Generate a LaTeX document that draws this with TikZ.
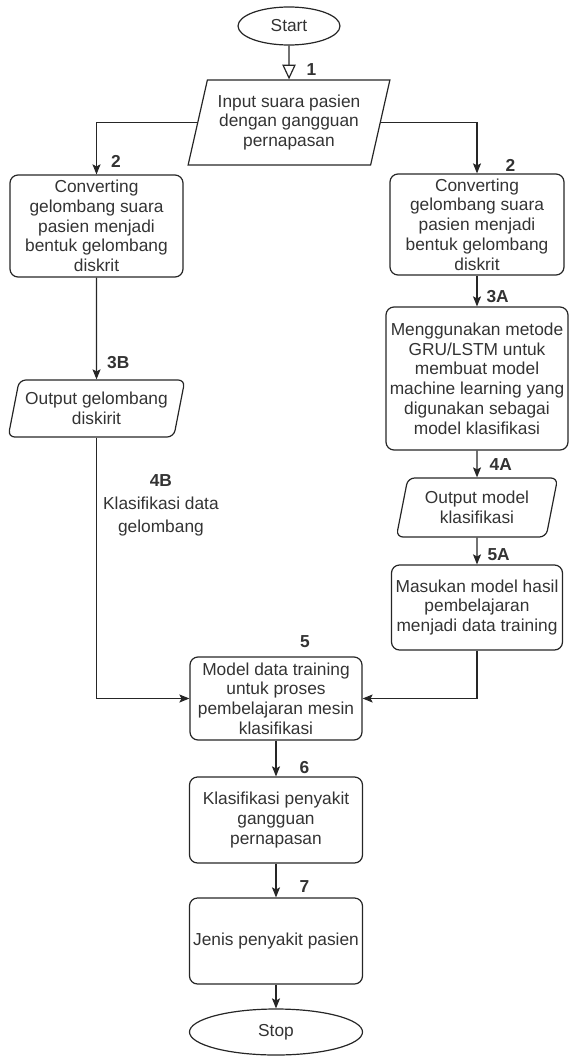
\documentclass[tikz,border=0pt]{standalone}
\usepackage{fontspec}
\setmainfont{Liberation Sans}
\usetikzlibrary{shapes.geometric,arrows.meta,positioning}

\begin{document}
\begin{tikzpicture}[x=0.75pt, y=-0.75pt, line width=0.9pt]
% flowchart of the respiratory sound classification, units in px
\providecommand{\flowLineColor}{black!85}
\providecommand{\flowTextColor}{black!80}
\providecommand{\flowFont}{\fontsize{13pt}{14.8pt}\selectfont}
\tikzset{
  terminal/.style={ellipse, draw=\flowLineColor, text=\flowTextColor, font=\flowFont, inner sep=0pt},
  process/.style={rectangle, rounded corners=6pt, draw=\flowLineColor, text=\flowTextColor,
    font=\flowFont, align=center, inner sep=1pt},
  io/.style={trapezium, trapezium stretches=true, draw=\flowLineColor, text=\flowTextColor,
    font=\flowFont, align=center, inner sep=1pt},
  flow/.style={draw=\flowLineColor, -{Stealth[length=7.5pt, width=6pt, inset=1.5pt]}},
  num/.style={font=\flowFont\bfseries, text=\flowTextColor, inner sep=0pt, anchor=west},
  edgetext/.style={font=\fontsize{13pt}{17pt}\selectfont, text=\flowTextColor, inner sep=0pt, align=center}
}
\useasboundingbox (0,0) rectangle (568,1056);

% Terminals
\node[terminal, minimum width=76.5pt, minimum height=28.5pt] (start) at (289,26) {Start};
\node[terminal, minimum width=129.75pt, minimum height=34.5pt] (stop) at (276,1032) {Stop};

% Input
\node[io, trapezium left angle=73.6, trapezium right angle=106.4,
  minimum width=151.5pt, minimum height=63.75pt] (input) at (289,122.5)
  {Input suara pasien\\dengan gangguan\\pernapasan};

% Left branch
\node[process, minimum width=129.75pt, minimum height=76.5pt] (convL) at (96.5,226)
  {Converting\\gelombang suara\\pasien menjadi\\bentuk gelombang\\diskrit};
\node[io, rounded corners=5pt, trapezium left angle=73.4, trapezium right angle=106.6,
  minimum width=132.75pt, minimum height=42.75pt] (outL) at (96.5,408.5)
  {Output gelombang\\diskirit};

% Right branch
\node[process, minimum width=130.5pt, minimum height=75.75pt] (convR) at (477,224.5)
  {Converting\\gelombang suara\\pasien menjadi\\bentuk gelombang\\diskrit};
\node[process, minimum width=136.5pt, minimum height=107.25pt] (gru) at (477,378.5)
  {Menggunakan metode\\GRU/LSTM untuk\\membuat model\\machine learning yang\\digunakan sebagai\\model klasifikasi};
\node[io, rounded corners=5pt, trapezium left angle=75.7, trapezium right angle=104.3,
  minimum width=122.25pt, minimum height=44.25pt] (outR) at (477,507.5)
  {Output model\\klasifikasi};
\node[process, minimum width=128.25pt, minimum height=63.75pt] (masukan) at (477,607.5)
  {Masukan model hasil\\pembelajaran\\menjadi data training};

% Common trunk
\node[process, minimum width=129pt, minimum height=62.25pt] (model) at (276,698.5)
  {Model data training\\untuk proses\\pembelajaran mesin\\klasifikasi};
\node[process, minimum width=129.75pt, minimum height=64.5pt] (klas) at (276,820)
  {Klasifikasi penyakit\\gangguan\\pernapasan};
\node[process, minimum width=129.75pt, minimum height=64.5pt] (jenis) at (276,941)
  {Jenis penyakit pasien};
\node[num, anchor=center] (n5) at ([xshift=21.75pt, yshift=11.25pt]model.north) {5};

% Connectors
\draw[draw=\flowLineColor, -{Triangle[open, length=11pt, width=10pt]}] (start) --
  node[num, at end, xshift=12.75pt, yshift=7.5pt] (n1) {1} (input);
\draw[flow] (input.west) -| node[num, at end, xshift=10.5pt, yshift=9.75pt] (n2L) {2} (convL.north);
\draw[flow] (input.east) -| node[num, at end, xshift=21pt, yshift=6pt] (n2R) {2} (convR.north);
\draw[flow] (convL) -- node[num, at end, xshift=7.5pt, yshift=12.75pt] (n3B) {3B} (outL);
\draw[flow] (convR) -- node[num, at end, xshift=6.75pt, yshift=7.5pt] (n3A) {3A} (gru);
\draw[flow] (gru) -- node[num, at end, xshift=9pt, yshift=9.75pt] (n4A) {4A} (outR);
\draw[flow] (outR) -- node[num, at end, xshift=7.5pt, yshift=7.5pt] (n5A) {5A} (masukan);
\draw[flow] (outL.south) |- node[edgetext, pos=0.13, right=4.5pt] (n4B)
  {\bfseries 4B\\Klasifikasi data\\gelombang} (model.west);
\draw[flow] (masukan.south) |- (model.east);
\draw[flow] (model) -- node[num, at end, xshift=17.25pt, yshift=6.75pt] (n6) {6} (klas);
\draw[flow] (klas) -- node[num, at end, xshift=17.25pt, yshift=8.25pt] (n7) {7} (jenis);
\draw[flow] (jenis) -- (stop);
\end{tikzpicture}
\end{document}
